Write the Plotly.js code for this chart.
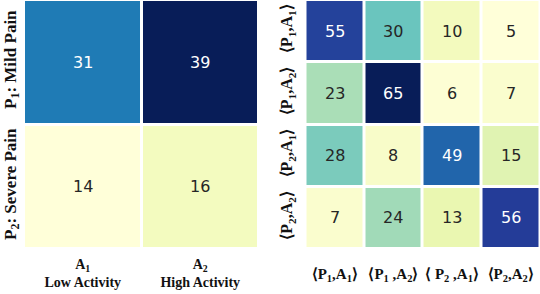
<!DOCTYPE html>
<html><head><meta charset="utf-8">
<script src="https://cdn.plot.ly/plotly-3.0.1.min.js"></script>
<style>html,body{margin:0;padding:0;background:#fff}#c{width:540px;height:294px}</style>
</head><body><div id="c"></div>
<script>
// Left matrix: pain x activity
const leftRows = ['P<sub>1</sub>: Mild Pain', 'P<sub>2</sub>: Severe Pain'];
const leftCols = ['A<sub>1</sub><br>Low Activity', 'A<sub>2</sub><br>High Activity'];
const leftValues = [[31, 39], [14, 16]];

// Right matrix: joint states
const rightLabels = ['\u27E8P<sub>1</sub>,A<sub>1</sub>\u27E9', '\u27E8P<sub>1</sub> ,A<sub>2</sub>\u27E9', '\u27E8 P<sub>2</sub> ,A<sub>1</sub>\u27E9', '\u27E8P<sub>2</sub>,A<sub>2</sub>\u27E9'];
const rightRowLabels = ['\u27E8P<sub>1</sub>,A<sub>1</sub>\u27E9', '\u27E8P<sub>1</sub>,A<sub>2</sub>\u27E9', '\u27E8P<sub>2</sub>,A<sub>1</sub>\u27E9', '\u27E8P<sub>2</sub>,A<sub>2</sub>\u27E9'];
const rightValues = [[55, 30, 10, 5], [23, 65, 6, 7], [28, 8, 49, 15], [7, 24, 13, 56]];

const ylgnbu = ['#ffffd9','#edf8b1','#c7e9b4','#7fcdbb','#41b6c4','#1d91c0','#225ea8','#253494','#081d58']
  .map((c,i,a)=>[i/(a.length-1), c]);

function annots(z, xs, ys, xa, ya) {
  const flat = z.flat();
  const mn = Math.min(...flat), mx = Math.max(...flat);
  const out = [];
  z.forEach((row, i) => row.forEach((v, j) => {
    const t = (v - mn) / (mx - mn);
    out.push({x: xs[j], y: ys[i], xref: xa, yref: ya, text: String(v), showarrow: false,
      font: {family: 'DejaVu Sans', size: 16, color: t > 0.6 ? '#ffffff' : '#262626'}});
  }));
  return out;
}

const traces = [
  {type: 'heatmap', z: leftValues, x: leftCols, y: leftRows, colorscale: ylgnbu, showscale: false,
   xgap: 3, ygap: 3, xaxis: 'x', yaxis: 'y', hoverinfo: 'skip'},
  {type: 'heatmap', z: rightValues, x: rightLabels, y: rightRowLabels, colorscale: ylgnbu, showscale: false,
   xgap: 3, ygap: 3, xaxis: 'x2', yaxis: 'y2', hoverinfo: 'skip'}
];

const layout = {
  width: 540, height: 294,
  margin: {l: 0, r: 0, t: 0, b: 45},
  paper_bgcolor: '#fff', plot_bgcolor: '#fff',
  xaxis: {domain: [24/540, 259/540], showgrid: false, zeroline: false, ticks: '', anchor: 'y',
          ticklabelstandoff: 5,
          tickfont: {family: 'Liberation Serif', size: 14, color: '#111', weight: 'bold'}},
  yaxis: {domain: [0, 1], autorange: 'reversed', showgrid: false, zeroline: false, ticks: '',
          tickangle: -90, anchor: 'x', ticklabelstandoff: 4,
          tickfont: {family: 'Liberation Serif', size: 17, color: '#111', weight: 'bold'}},
  xaxis2: {domain: [305.5/540, 1], showgrid: false, zeroline: false, ticks: '', anchor: 'y2', tickangle: 0,
           ticklabelstandoff: 14,
           tickfont: {family: 'Liberation Serif', size: 15, color: '#111', weight: 'bold'}},
  yaxis2: {domain: [0, 1], autorange: 'reversed', showgrid: false, zeroline: false, ticks: '',
           tickangle: -90, anchor: 'x2', ticklabelstandoff: 9,
           tickfont: {family: 'Liberation Serif', size: 16, color: '#111', weight: 'bold'}},
  annotations: annots(leftValues, leftCols, leftRows, 'x', 'y')
    .concat(annots(rightValues, rightLabels, rightRowLabels, 'x2', 'y2')),
  showlegend: false
};
Plotly.newPlot('c', traces, layout, {staticPlot: true, displayModeBar: false});
</script></body></html>
